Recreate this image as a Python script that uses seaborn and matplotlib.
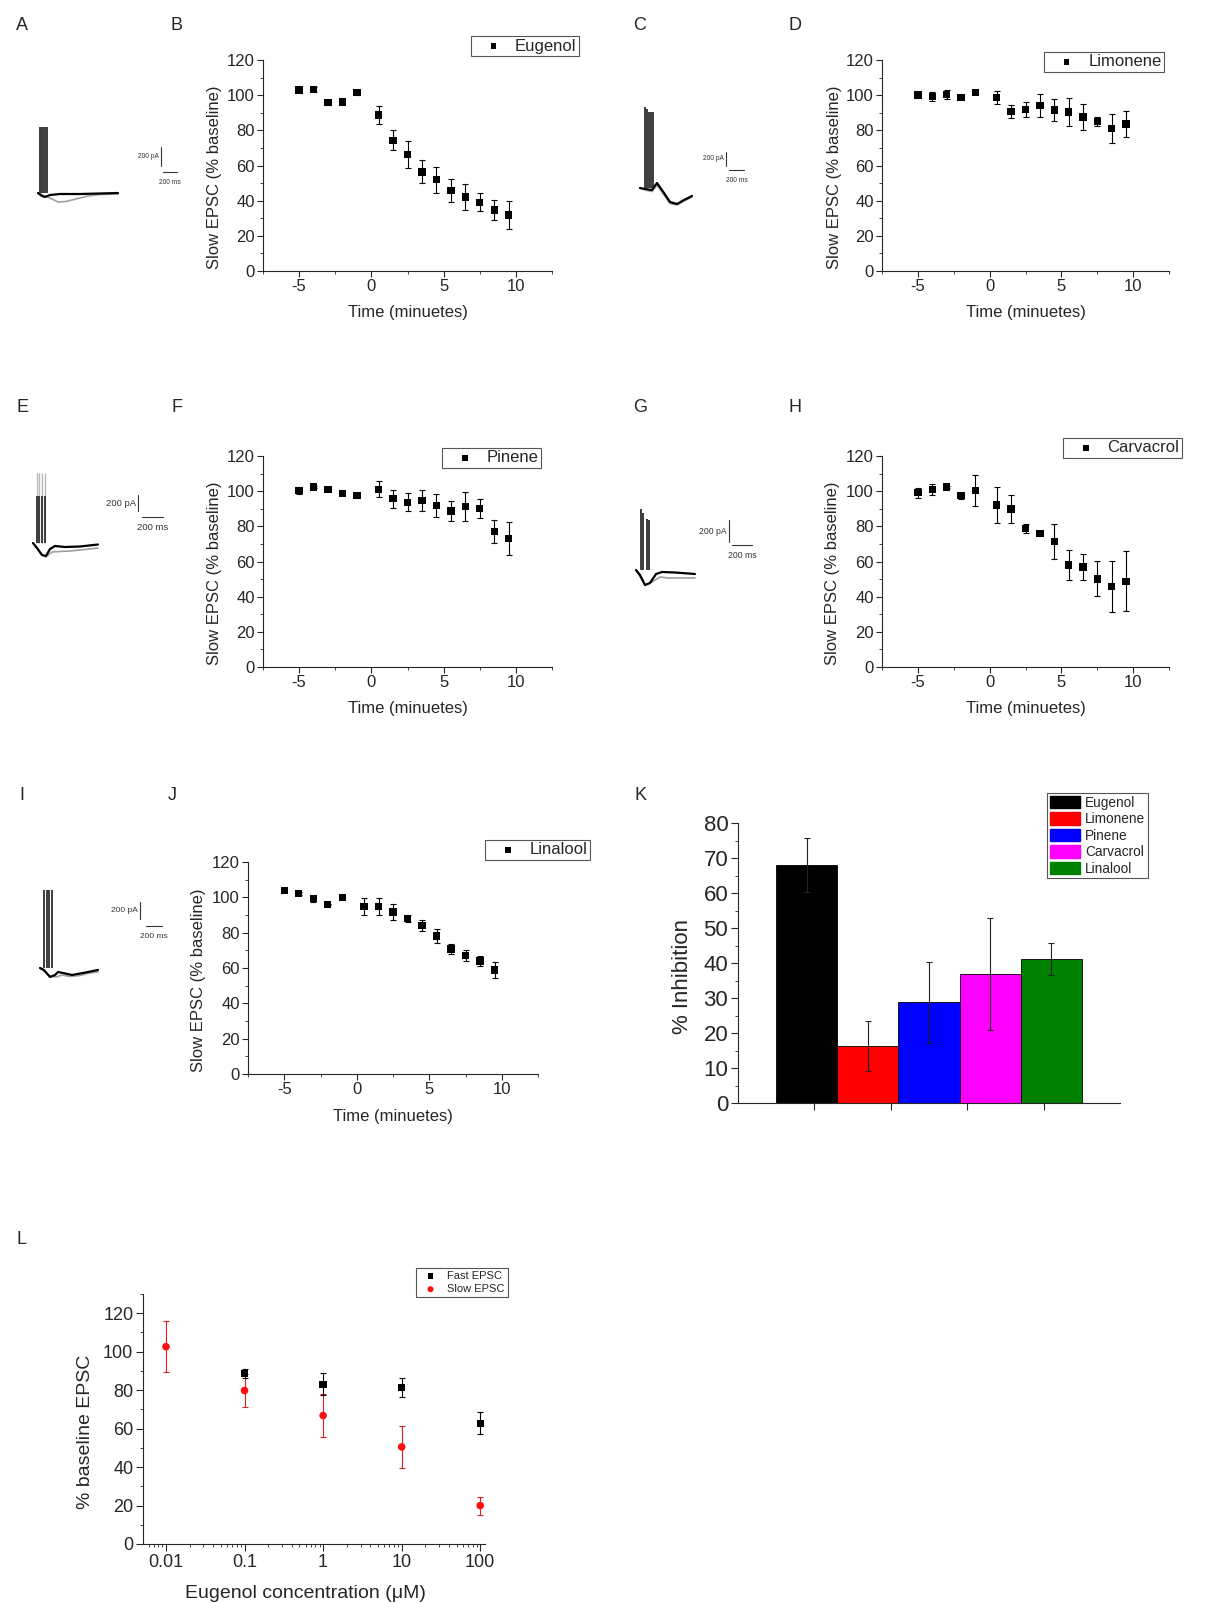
"""Terpene effects on slow EPSC: multi-panel figure (A-L)."""
import numpy as np
import matplotlib
matplotlib.use("Agg")
import matplotlib.pyplot as plt
import matplotlib.patches as mpatches
from matplotlib.ticker import MultipleLocator, LogLocator, NullFormatter
import seaborn as sns

W, H = 1228, 1603

# ---------------- data ----------------
time_min = [-5, -4, -3, -2, -1, 0.5, 1.5, 2.5, 3.5, 4.5, 5.5, 6.5, 7.5, 8.5, 9.5]

eugenol_mean = [102.9, 103.3, 95.7, 96.1, 101.6, 88.7, 74.4, 66.3, 56.4, 52.0, 45.8, 42.1, 39.1, 34.7, 31.9]
eugenol_err = [1.0, 1.5, 1.5, 0.5, 1.5, 5.0, 5.7, 7.6, 6.5, 7.4, 6.8, 7.4, 5.0, 5.7, 7.8]

limonene_mean = [100.1, 99.1, 100.5, 98.8, 101.4, 98.8, 90.6, 91.8, 94.0, 91.6, 90.4, 87.6, 85.1, 80.9, 83.6]
limonene_err = [1.5, 2.5, 2.4, 0.8, 1.0, 3.6, 3.6, 4.5, 6.6, 6.4, 8.0, 7.2, 2.7, 8.2, 7.4]

pinene_mean = [100.4, 102.3, 101.0, 98.7, 97.6, 101.0, 95.7, 93.6, 94.7, 91.7, 88.7, 91.3, 90.0, 76.9, 73.1]
pinene_err = [2.0, 0.5, 0.5, 1.0, 1.5, 4.6, 5.0, 5.1, 5.9, 6.5, 5.9, 8.4, 5.3, 6.6, 9.5]

carvacrol_mean = [99.1, 101.0, 102.3, 97.4, 100.4, 92.1, 89.8, 78.8, 76.1, 71.4, 58.1, 56.8, 50.1, 45.6, 48.8]
carvacrol_err = [2.9, 2.9, 0.5, 1.9, 8.7, 10.4, 8.0, 2.7, 0.7, 10.0, 8.7, 7.6, 10.0, 14.6, 16.9]

linalool_mean = [103.7, 102.0, 99.2, 96.0, 99.8, 94.7, 94.9, 91.6, 88.1, 84.1, 78.2, 70.7, 67.1, 63.9, 58.8]
linalool_err = [0.5, 0.8, 1.9, 0.5, 0.5, 4.7, 4.7, 4.6, 1.8, 3.2, 3.8, 3.0, 3.0, 3.0, 4.7]

k_names = ["Eugenol", "Limonene", "Pinene", "Carvacrol", "Linalool"]
k_mean = [68.0, 16.3, 28.8, 37.0, 41.2]
k_err = [7.7, 7.2, 11.6, 16.0, 4.6]
k_colors = ["#000000", "#ff0000", "#0000ff", "#ff00ff", "#008000"]

fast_conc = [0.1, 1, 10, 100]
fast_mean = [88.8, 83.0, 81.4, 62.8]
fast_err = [2.3, 5.7, 4.7, 5.6]
slow_conc = [0.01, 0.1, 1, 10, 100]
slow_mean = [102.6, 79.8, 66.8, 50.5, 20.0]
slow_err = [13.3, 8.7, 11.0, 11.0, 4.7]

# example current traces (figure pixel units), one set per inset
a_stim_x = [39.5, 41.3, 43.1, 44.9, 46.7]
a_black = ([38, 42, 45, 50, 60, 80, 100, 118], [193, 196, 197, 195, 194, 194, 193.5, 193])
a_gray = ([38, 45, 52, 58, 66, 76, 88, 100, 118], [193, 196, 199, 202, 201.5, 199, 196, 194.5, 194])

c_stim_x = [644.5, 646.5, 648.5, 650.5, 652.5]
c_stim_top = [107, 109, 112, 112, 112]
c_black = ([640, 645, 652, 657, 664, 670, 677, 684, 692], [188, 189, 190, 183, 193, 202, 204, 200, 196])
c_gray = ([640, 645, 652, 657, 664, 670, 677, 684, 692], [188, 190, 191.5, 185, 195, 203.5, 205, 201, 197])

e_stim_x = [36.7, 39.3, 42.3, 45.3]
e_black = ([33, 37, 42, 46, 50, 55, 65, 80, 98], [543, 548, 555, 556, 549, 546, 547, 546.5, 544.5])
e_gray = ([33, 42, 46, 52, 60, 70, 85, 98], [543, 555, 557, 552, 551.5, 551, 549.5, 548])

g_stim_x = [640.7, 643.3, 646.7, 649.3]
g_stim_top = [509, 513, 519, 520]
g_black = ([636, 640, 645, 650, 656, 662, 675, 695], [570, 575, 585, 583, 574, 572, 572.5, 574])
g_gray = ([636, 645, 652, 660, 668, 680, 695], [570, 585, 582, 577, 578, 578, 578])

i_stim_x = [44.0, 46.7, 49.3, 52.0]
i_black = ([40, 44, 50, 55, 58, 63, 72, 83, 98], [968, 970, 977, 975, 972, 973, 975, 973, 970])
i_gray = ([40, 50, 56, 62, 70, 80, 90, 98], [968, 976, 977, 975, 976.5, 975.5, 973, 972])

# ---------------- style ----------------
sns.set_style("ticks")
plt.rcParams["font.family"] = ["Liberation Sans", "DejaVu Sans"]
plt.rcParams["axes.linewidth"] = 0.8
plt.rcParams["xtick.major.width"] = 0.8
plt.rcParams["ytick.major.width"] = 0.8
plt.rcParams["xtick.minor.width"] = 0.6
plt.rcParams["ytick.minor.width"] = 0.6
plt.rcParams["xtick.direction"] = "out"
plt.rcParams["ytick.direction"] = "out"

fig = plt.figure(figsize=(W / 100, H / 100), dpi=100)

# overlay in figure pixels for the example traces
ov = fig.add_axes([0, 0, 1, 1])
ov.set_xlim(0, W)
ov.set_ylim(H, 0)
ov.axis("off")
ov.patch.set_visible(False)


def axes_px(ext):
    left, top, right, bottom = ext
    return fig.add_axes([left / W, 1 - bottom / H, (right - left) / W, (bottom - top) / H])


def put_labels(ax, ext, xlabel, ylabel, ylab_x, ylab_y, xlab_y, xlab_x=None, size=12):
    left, top, right, bottom = ext
    if xlab_x is None:
        xlab_x = (left + right) / 2
    ax.set_xlabel(xlabel, fontsize=size, va="center")
    ax.set_ylabel(ylabel, fontsize=size, va="center")
    ax.xaxis.set_label_coords((xlab_x - left) / (right - left), (bottom - xlab_y) / (bottom - top))
    ax.yaxis.set_label_coords((ylab_x - left) / (right - left), (bottom - ylab_y) / (bottom - top))


def px_legend(ax, handles, labels, right, top, **kw):
    leg = ax.legend(handles, labels, loc="upper right",
                    bbox_to_anchor=(right / W, 1 - top / H),
                    bbox_transform=fig.transFigure, borderaxespad=0,
                    frameon=True, fancybox=False, framealpha=1,
                    edgecolor="#555555", **kw)
    leg.get_frame().set_linewidth(0.8)
    return leg


def lshape(ax, labelsize):
    sns.despine(ax=ax)
    ax.tick_params(which="major", length=4, labelsize=labelsize, pad=2)
    ax.tick_params(which="minor", length=2.2)


def time_panel(ext, mean, err, name, leg_right, leg_top, ylab_x, xlab_y):
    ax = axes_px(ext)
    ax.errorbar(time_min, mean, yerr=err, fmt="none", ecolor="black",
                elinewidth=0.8, capsize=2, capthick=0.8, zorder=2)
    sns.scatterplot(x=time_min, y=mean, marker="s", s=28, color="black",
                    edgecolor="none", label=name, ax=ax, zorder=3)
    ax.set_xlim(-7.5, 12.5)
    ax.set_ylim(0, 120)
    ax.set_xticks([-5, 0, 5, 10])
    ax.set_xticklabels(["-5", "0", "5", "10"])
    ax.xaxis.set_minor_locator(MultipleLocator(2.5))
    ax.yaxis.set_major_locator(MultipleLocator(20))
    ax.yaxis.set_minor_locator(MultipleLocator(10))
    lshape(ax, 12)
    left, top, right, bottom = ext
    put_labels(ax, ext, "Time (minuetes)", "Slow EPSC (% baseline)",
               ylab_x, (top + bottom) / 2 + 12, xlab_y)
    h, l = ax.get_legend_handles_labels()
    px_legend(ax, h, l, leg_right, leg_top, fontsize=12, borderpad=0.15,
              handlelength=2.4, handletextpad=0.1, markerscale=0.75)
    return ax


def draw_trace(stim_x, stim_top, base, black, gray, scale, fsize, stim_light_top=None):
    if stim_light_top is not None:
        ov.vlines(stim_x, base, stim_light_top, color="#b8b8b8", lw=1.0, zorder=1)
    ov.vlines(stim_x, base, stim_top, color="#3c3c3c", lw=1.4, zorder=2)
    ov.plot(gray[0], gray[1], color="#a0a0a0", lw=1.2, zorder=3)
    ov.plot(black[0], black[1], color="black", lw=1.6, zorder=4)
    vx, vy0, vy1, hx0, hx1, hy = scale
    ov.plot([vx, vx], [vy0, vy1], color="#333333", lw=0.8)
    ov.plot([hx0, hx1], [hy, hy], color="#333333", lw=0.8)
    ov.text(vx - 2, (vy0 + vy1) / 2, "200 pA", ha="right", va="center", fontsize=fsize, color="#333333")
    ov.text((hx0 + hx1) / 2, hy + 10, "200 ms", ha="center", va="center", fontsize=fsize, color="#333333")


# ---------------- example traces ----------------
draw_trace(a_stim_x, 127, 193, a_black, a_gray, (161, 147, 166, 163, 177, 172), 4.8)
draw_trace(c_stim_x, c_stim_top, 188, c_black, c_gray, (726, 152, 166, 729, 744, 170), 4.8)
draw_trace(e_stim_x, 496, 543, e_black, e_gray, (138, 495, 511, 142, 163, 517), 6.8, stim_light_top=473)
draw_trace(g_stim_x, g_stim_top, 570, g_black, g_gray, (729, 520, 542, 732, 752, 545), 6.2)
draw_trace(i_stim_x, 890, 968, i_black, i_gray, (140, 902, 919, 146, 162, 926), 6.0)

# ---------------- time course panels ----------------
time_panel((263, 60, 552, 271), eugenol_mean, eugenol_err, "Eugenol", 579, 36, 215, 312)
time_panel((882, 60, 1169, 271), limonene_mean, limonene_err, "Limonene", 1164, 52, 834, 312)
time_panel((263, 456, 552, 667), pinene_mean, pinene_err, "Pinene", 541, 448, 215, 708)
time_panel((882, 456, 1169, 667), carvacrol_mean, carvacrol_err, "Carvacrol", 1182, 438, 833, 708)
time_panel((248, 862, 538, 1074), linalool_mean, linalool_err, "Linalool", 590, 840, 199, 1116)

# ---------------- K: % inhibition bars ----------------
k_ext = (738, 823, 1120, 1103)
axk = axes_px(k_ext)
sns.barplot(x=k_names, y=k_mean, hue=k_names, palette=k_colors, width=1,
            saturation=1, legend=False, edgecolor="black", linewidth=0.6, ax=axk)
axk.errorbar(range(len(k_names)), k_mean, yerr=k_err, fmt="none", ecolor="#222222",
             elinewidth=0.8, capsize=2.2, capthick=0.8, zorder=5)
axk.set_xlim(-1.125, 5.125)
axk.set_xticks(np.arange(0.125, 4, 1.25))
axk.set_xticklabels([])
axk.set_ylim(0, 80)
axk.yaxis.set_major_locator(MultipleLocator(10))
axk.yaxis.set_minor_locator(MultipleLocator(5))
lshape(axk, 16)
axk.tick_params(which="major", length=5)
put_labels(axk, k_ext, "", "% Inhibition", 683, 976, 1140, size=16)
k_handles = [mpatches.Patch(color=c, label=n) for n, c in zip(k_names, k_colors)]
px_legend(axk, k_handles, k_names, 1148, 793, fontsize=9.8, borderpad=0.2,
          handlelength=2.2, handleheight=1.0, labelspacing=0.18, handletextpad=0.4)

# ---------------- L: concentration response ----------------
l_ext = (143, 1294, 485, 1544)
axl = axes_px(l_ext)
axl.set_xscale("log")
axl.errorbar(slow_conc, slow_mean, yerr=slow_err, fmt="none", ecolor="#e02020",
             elinewidth=0.8, capsize=2, capthick=0.8, zorder=2)
axl.errorbar(fast_conc, fast_mean, yerr=fast_err, fmt="none", ecolor="black",
             elinewidth=0.8, capsize=2, capthick=0.8, zorder=2)
sns.scatterplot(x=fast_conc, y=fast_mean, marker="s", s=28, color="black",
                edgecolor="none", label="Fast EPSC", ax=axl, zorder=3)
sns.scatterplot(x=slow_conc, y=slow_mean, marker="o", s=30, color="#ff1010",
                edgecolor="none", label="Slow EPSC", ax=axl, zorder=3)
axl.set_xlim(0.0051, 115)
axl.set_ylim(0, 130)
axl.set_xticks([0.01, 0.1, 1, 10, 100])
axl.set_xticklabels(["0.01", "0.1", "1", "10", "100"])
axl.xaxis.set_minor_locator(LogLocator(base=10, subs=np.arange(2, 10), numticks=20))
axl.xaxis.set_minor_formatter(NullFormatter())
axl.set_yticks(np.arange(0, 121, 20))
axl.yaxis.set_minor_locator(MultipleLocator(10))
lshape(axl, 13)
axl.tick_params(which="major", length=5)
put_labels(axl, l_ext, "Eugenol concentration (\u03bcM)", "% baseline EPSC",
           85, 1432, 1593, xlab_x=305, size=14)
h, l = axl.get_legend_handles_labels()
px_legend(axl, h, l, 508, 1268, fontsize=8, borderpad=0.3, handlelength=2.0,
          handletextpad=0.5, labelspacing=0.25, markerscale=0.8)

# ---------------- panel letters ----------------
panel_letters = ["A", "B", "C", "D", "E", "F", "G", "H", "I", "J", "K", "L"]
letter_pos = [(22, 25), (177, 25), (640, 25), (795, 25),
              (22, 407), (177, 407), (640, 407), (795, 407),
              (22, 795), (172, 795), (640, 795), (22, 1239)]
for letter, (px, py) in zip(panel_letters, letter_pos):
    fig.text(px / W, 1 - py / H, letter, fontsize=13, ha="center", va="center")

fig.savefig("out.png", dpi=100)
